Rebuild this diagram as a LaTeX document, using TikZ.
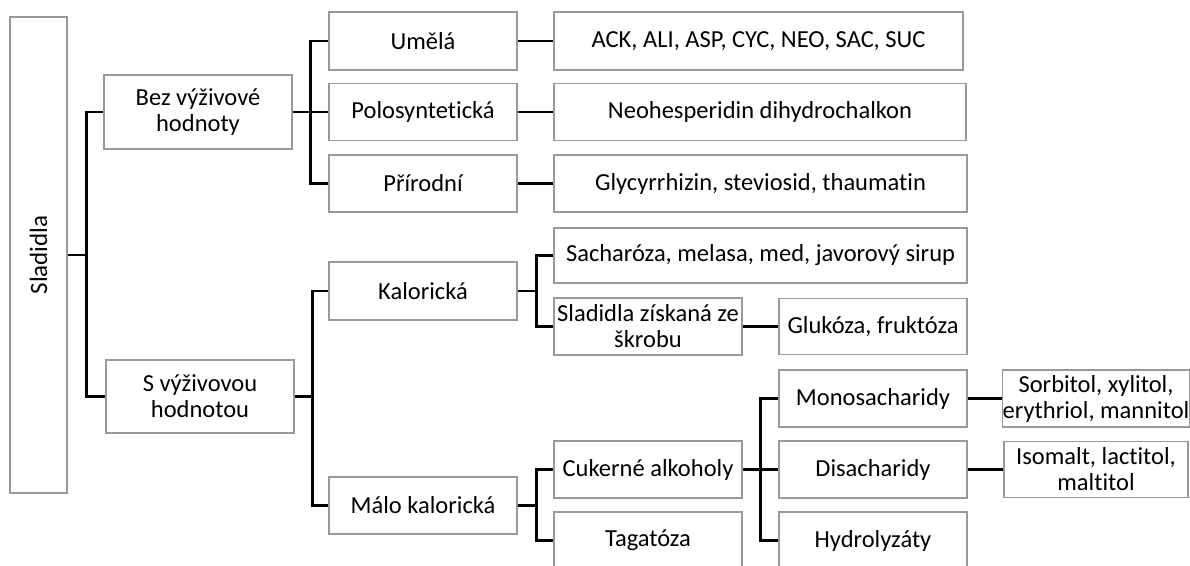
\documentclass[tikz,border=0pt]{standalone}
\usepackage{fontspec}
\setmainfont{Carlito}[Ligatures=NoCommon]
\begin{document}
\begin{tikzpicture}[x=1pt,y=-1pt,
  box/.style={draw=black!40, line width=1.2pt, fill=white, inner sep=0pt, align=center,
    font=\fontsize{24.5}{26}\selectfont},
  conn/.style={draw=black, line width=2.4pt}]
\clip (0,0) rectangle (1190,565);
\fill[white] (0,0) rectangle (1190,565);
% level 0
\node[box, minimum width=57pt, minimum height=476pt] (sl) at (38.5,255) {};
\node[rotate=90, inner sep=0pt, font=\fontsize{25}{26}\selectfont] (slt) at (sl.center) {Sladidla};
% level 1
\node[box, minimum width=188pt, minimum height=74pt] (bez) at (198,112) {Bez výživové\\hodnoty};
\node[box, minimum width=188pt, minimum height=73pt] (s) at (200,396.5) {S výživovou\\hodnotou};
% level 2
\node[box, minimum width=188pt, minimum height=58pt] (um) at (423,41) {Umělá};
\node[box, minimum width=188pt, minimum height=57pt] (po) at (423,112) {Polosyntetická};
\node[box, minimum width=188pt, minimum height=57pt] (pr) at (423,183.5) {Přírodní};
\node[box, minimum width=188pt, minimum height=58pt] (ka) at (423,291) {Kalorická};
\node[box, minimum width=188pt, minimum height=57pt] (ma) at (423,505.5) {Málo kalorická};
% level 3
\node[box, minimum width=409pt, minimum height=58pt] (umL) at (758.5,41) {ACK, ALI, ASP, CYC, NEO, SAC, SUC};
\node[box, minimum width=412pt, minimum height=57pt] (poL) at (760,112) {Neohesperidin dihydrochalkon};
\node[box, minimum width=413pt, minimum height=57pt] (prL) at (760.5,183.5) {Glycyrrhizin, steviosid, thaumatin};
\node[box, minimum width=413pt, minimum height=55pt] (sa) at (760.5,255.5) {Sacharóza, melasa, med, javorový sirup};
\node[box, minimum width=188pt, minimum height=57pt] (sk) at (648,326.5) {Sladidla získaná ze\\škrobu};
\node[box, minimum width=188pt, minimum height=57pt] (ck) at (648,469.5) {Cukerné alkoholy};
\node[box, minimum width=188pt, minimum height=57pt] (tg) at (648,540.5) {Tagatóza};
% level 4
\node[box, minimum width=188pt, minimum height=56pt] (gl) at (873,326.5) {Glukóza, fruktóza};
\node[box, minimum width=188pt, minimum height=57pt] (mo) at (873,398.5) {Monosacharidy};
\node[box, minimum width=188pt, minimum height=57pt] (di) at (873,469.5) {Disacharidy};
\node[box, minimum width=188pt, minimum height=57pt] (hy) at (873,540.5) {Hydrolyzáty};
% level 5
\node[box, minimum width=184pt, minimum height=57pt] (so) at (1096,398.5) {Sorbitol, xylitol,\\erythriol, mannitol};
\node[box, minimum width=184pt, minimum height=56pt] (is) at (1096,469.5) {Isomalt, lactitol,\\maltitol};
% connectors
\draw[conn] (sl.east) -- ++(19,0) coordinate (b0);
\draw[conn] (b0) |- (bez.west);
\draw[conn] (b0) |- (s.west);
\draw[conn] (bez.east) -- ++(18,0) coordinate (b1);
\draw[conn] (b1) |- (um.west);
\draw[conn] (b1) |- (po.west);
\draw[conn] (b1) |- (pr.west);
\draw[conn] (s.east) -- ++(18,0) coordinate (b2);
\draw[conn] (b2) |- (ka.west);
\draw[conn] (b2) |- (ma.west);
\draw[conn] (ka.east) -- ++(19,0) coordinate (b3);
\draw[conn] (b3) |- (sa.west);
\draw[conn] (b3) |- (sk.west);
\draw[conn] (ma.east) -- ++(19,0) coordinate (b4);
\draw[conn] (b4) |- (ck.west);
\draw[conn] (b4) |- (tg.west);
\draw[conn] (ck.east) -- ++(18,0) coordinate (b5);
\draw[conn] (b5) |- (mo.west);
\draw[conn] (b5) |- (di.west);
\draw[conn] (b5) |- (hy.west);
\draw[conn] (um.east) -- (umL.west);
\draw[conn] (po.east) -- (poL.west);
\draw[conn] (pr.east) -- (prL.west);
\draw[conn] (sk.east) -- (gl.west);
\draw[conn] (mo.east) -- (so.west);
\draw[conn] (di.east) -- (is.west);
\end{tikzpicture}
\end{document}
